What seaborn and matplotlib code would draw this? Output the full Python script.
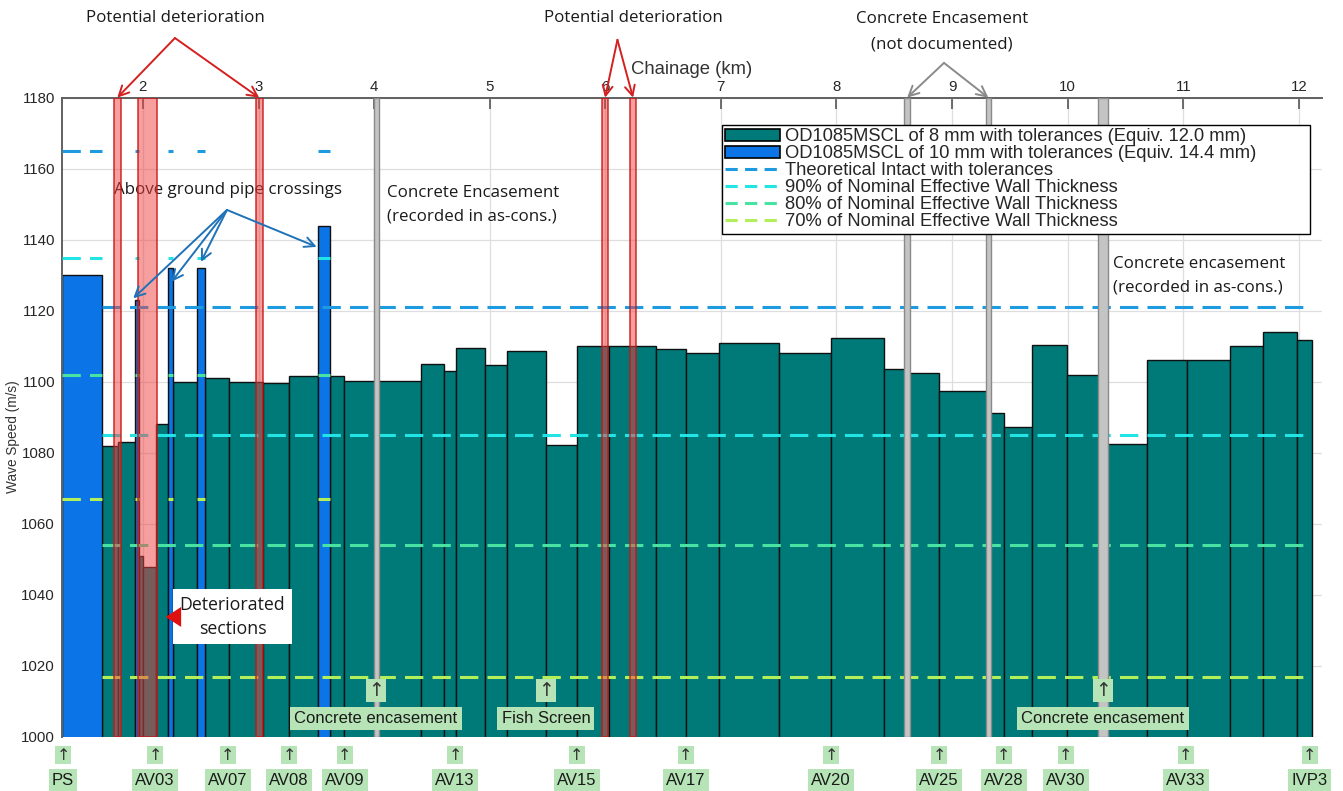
import matplotlib
matplotlib.use("Agg")
import matplotlib.pyplot as plt
import matplotlib.transforms as mtransforms
from matplotlib.patches import Patch
from matplotlib.lines import Line2D
import numpy as np
import pandas as pd
import seaborn as sns

# ---------------------------------------------------------------------------
# Pipe sections: chainage boundaries (km), measured wave speed (m/s), wall (mm)
# ---------------------------------------------------------------------------
section_edges_km = [1.300, 1.645, 1.781, 1.935, 1.965, 2.004, 2.112, 2.214, 2.264, 2.467,
                    2.536, 2.744, 3.035, 3.266, 3.511, 3.615, 3.741, 4.016, 4.402, 4.601,
                    4.705, 4.961, 5.149, 5.486, 5.757, 6.034, 6.435, 6.697, 6.985, 7.499,
                    7.953, 8.414, 8.609, 8.890, 9.318, 9.448, 9.690, 9.993, 10.309, 10.688,
                    11.030, 11.407, 11.686, 11.983, 12.112]
wave_speed = [1130, 1082, 1083, 1123, 1051, 1048, 1088, 1132, 1100, 1132,
              1101, 1100, 1099.7, 1101.7, 1144, 1101.6, 1100.3, 1100.3, 1105, 1103,
              1109.6, 1104.8, 1108.8, 1082.1, 1110.1, 1110, 1109.3, 1108, 1110.9, 1108,
              1112.4, 1103.5, 1102.5, 1097.3, 1091.3, 1087.3, 1110.4, 1102, 1082.5, 1106.2,
              1106.2, 1110, 1114, 1111.8]
wall_mm = [10, 8, 8, 10, 8, 8, 8, 10, 8, 10,
           8, 8, 8, 8, 10, 8, 8, 8, 8, 8,
           8, 8, 8, 8, 8, 8, 8, 8, 8, 8,
           8, 8, 8, 8, 8, 8, 8, 8, 8, 8,
           8, 8, 8, 8]

# Wave-speed thresholds (m/s): intact, 90 %, 80 %, 70 % effective wall thickness
level_names = ["Theoretical Intact with tolerances",
               "90% of Nominal Effective Wall Thickness",
               "80% of Nominal Effective Wall Thickness",
               "70% of Nominal Effective Wall Thickness"]
levels_8mm = [1121, 1085, 1054, 1017]
levels_10mm = [1165, 1135, 1102, 1067]

# Highlighted chainage ranges (km)
deterioration_bands = [(1.749, 1.807), (1.954, 2.119), (2.978, 3.035),
                       (5.975, 6.022), (6.213, 6.268)]
encasement_bands = [(3.998, 4.042), (8.588, 8.635), (9.292, 9.336), (10.265, 10.348)]

# Valves / structures along the main
valve_names = ["PS", "AV03", "AV07", "AV08", "AV09", "AV13", "AV15", "AV17",
               "AV20", "AV25", "AV28", "AV30", "AV33", "IVP3"]
valve_km = [1.308, 2.104, 2.735, 3.263, 3.747, 4.699, 5.754, 6.697,
            7.952, 8.886, 9.448, 9.984, 11.022, 12.095]
feature_names = ["Concrete encasement", "Fish Screen", "Concrete encasement"]
feature_km = [4.015, 5.486, 10.304]

# ---------------------------------------------------------------------------
teal = "#007a78"
blue = "#0b74e6"
level_colors = ["#1e9be0", "#22e4e4", "#48e2a2", "#b2ef5a"]
green_box = "#b6e4b6"
ann_font = ["Open Sans", "DejaVu Sans"]
arrow_font = ["DejaVu Sans"]

sns.set_style("white")
plt.rcParams["font.family"] = ["Liberation Sans", "DejaVu Sans"]

fig = plt.figure(figsize=(13.43, 7.91), dpi=100)
ax = fig.add_axes([0.04617, 0.06827, 0.93819, 0.80822])

edges = list(section_edges_km)
edges_arr = np.array(section_edges_km)
df = pd.DataFrame({
    "mid": (edges_arr[:-1] + edges_arr[1:]) / 2,
    "speed": wave_speed,
    "wall": wall_mm,
})

# Sections as variable-width bars (bins = section boundaries)
for wall, colour in [(8, teal), (10, blue)]:
    sub = df[df["wall"] == wall]
    sns.histplot(data=sub, x="mid", weights="speed", bins=edges, color=colour,
                 edgecolor="#101010", linewidth=1.0, alpha=1, ax=ax, zorder=2)

dash = (0, (6, 3))
# Thresholds for 8 mm pipe run from the end of the pump-station section
for lvl, col in zip(levels_8mm, level_colors):
    ax.plot([edges[1], edges[-1]], [lvl, lvl], color=col, lw=2.2, ls=dash, zorder=3)
# Thresholds for 10 mm pipe only over the 10 mm sections
blue_idx = [i for i, w in enumerate(wall_mm) if w == 10]
for lvl, col in zip(levels_10mm, level_colors):
    for i in blue_idx:
        ax.plot([edges[i], edges[i + 1]], [lvl, lvl], color=col, lw=2.2, ls=dash, zorder=3)

for x0, x1 in deterioration_bands:
    ax.axvspan(x0, x1, facecolor=(0.94, 0.25, 0.25, 0.5), edgecolor=(0.78, 0.08, 0.08, 0.75),
               lw=1.3, zorder=4)
for x0, x1 in encasement_bands:
    ax.axvspan(x0, x1, facecolor="#c4c4c4", edgecolor="#8a8a8a", lw=1.0, zorder=4)

# Axes styling
ax.set_xlim(1.3, 12.2)
ax.set_ylim(1000, 1180)
ax.set_xticks(range(2, 13))
ax.set_yticks(range(1000, 1181, 20))
ax.xaxis.tick_top()
ax.xaxis.set_label_position("top")
ax.tick_params(axis="both", direction="in", length=8, width=1.2, color="#555555",
               labelsize=10.8, labelcolor="#262626")
ax.tick_params(axis="x", pad=3)
ax.tick_params(axis="y", pad=5)
for side in ["bottom", "right"]:
    ax.spines[side].set_visible(False)
for side in ["top", "left"]:
    ax.spines[side].set_color("#606060")
    ax.spines[side].set_linewidth(1.4)
ax.grid(True, color="#dedede", lw=0.9)
ax.set_axisbelow(True)
ax.set_xlabel("Chainage (km)", fontsize=13.3, color="#333333", labelpad=0)
ax.xaxis.set_label_coords(0.5, 1.037)
ax.set_ylabel("Wave Speed (m/s)", fontsize=9.8, color="#333333")
ax.yaxis.set_label_coords(-0.033, 0.47)

# Legend: fixed-width box in the upper right of the axes
handles = [Patch(facecolor=teal, edgecolor="black", lw=1.2),
           Patch(facecolor=blue, edgecolor="black", lw=1.2)]
handles += [Line2D([0], [0], color=c, lw=2.2, ls=(0, (4, 2.4))) for c in level_colors]
labels = ["OD1085MSCL of 8 mm with tolerances (Equiv. 12.0 mm)",
          "OD1085MSCL of 10 mm with tolerances (Equiv. 14.4 mm)"] + level_names
leg = ax.legend(handles, labels, loc="upper left",
                bbox_to_anchor=(0.5238, 0.5, 0.4667, 0.457), mode="expand",
                fontsize=13.2, frameon=True, fancybox=False, framealpha=1,
                edgecolor="black", borderpad=0.18, labelspacing=0.0,
                handlelength=3.0, handleheight=0.6, handletextpad=0.27, borderaxespad=0)
leg.get_frame().set_linewidth(1.0)
leg.set_zorder(10)

# Annotations
arrow_kw = dict(arrowstyle="->", lw=1.4, shrinkA=0, shrinkB=0, mutation_scale=18)


def callout(text, text_xy, start, tips, colour, **text_kw):
    ax.text(*text_xy, text, ha="center", va="center", fontsize=12.2,
            family=ann_font, color="#1a1a1a", clip_on=False, **text_kw)
    for tip in tips:
        ax.annotate("", xy=tip, xytext=start, annotation_clip=False,
                    arrowprops=dict(color=colour, **arrow_kw), zorder=6)


callout("Potential deterioration", (2.277, 1202.4), (2.277, 1196.8),
        [(1.778, 1180), (3.006, 1180)], "#d42020")
callout("Potential deterioration", (6.247, 1202.4), (6.105, 1196.3),
        [(5.998, 1180), (6.240, 1180)], "#d42020")
callout("Concrete Encasement\n(not documented)", (8.912, 1198.5), (8.93, 1189.8),
        [(8.611, 1180), (9.314, 1180)], "#8a8a8a", linespacing=1.75)
callout("Above ground pipe crossings", (2.735, 1153.9), (2.727, 1148.4),
        [(1.916, 1123.5), (2.248, 1128.2), (2.502, 1133.8), (3.503, 1138.0)], "#1f72b8")

ax.text(4.111, 1149.8, "Concrete Encasement\n(recorded in as-cons.)", ha="left", va="center",
        fontsize=12.2, family=ann_font, color="#1a1a1a", linespacing=1.67, zorder=6)
ax.text(10.391, 1129.9, "Concrete encasement\n(recorded in as-cons.)", ha="left", va="center",
        fontsize=12.2, family=ann_font, color="#1a1a1a", linespacing=1.67, zorder=6)

ax.text(2.775, 1033.8, "Deteriorated\nsections", ha="center", va="center", fontsize=12.8,
        family=ann_font, color="#1a1a1a", linespacing=1.47, zorder=7,
        bbox=dict(boxstyle="square,pad=0.35", fc="white", ec="none"))
ax.annotate("", xy=(2.172, 1033.8), xytext=(2.28, 1033.8), zorder=7,
            arrowprops=dict(arrowstyle="-|>,head_length=0.7,head_width=0.45",
                            color="#e01010", lw=0, mutation_scale=16))

# Structure labels inside the plot
for name, x in zip(feature_names, feature_km):
    ax.text(x, 1013.0, "\u2191", ha="center", va="center", fontsize=13.5, color="#333333",
            family=arrow_font, zorder=7,
            bbox=dict(boxstyle="square,pad=0.1", fc=green_box, ec="none"))
    ax.text(x, 1005.3, name, ha="center", va="center", fontsize=12, color="#1a1a1a",
            zorder=7, bbox=dict(boxstyle="square,pad=0.25", fc=green_box, ec="none"))

# Valve labels below the plot
trans = mtransforms.blended_transform_factory(ax.transData, ax.transAxes)
for name, x in zip(valve_names, valve_km):
    ax.text(x, -0.0285, "\u2191", transform=trans, ha="center", va="center", fontsize=11.5,
            color="#333333", family=arrow_font, clip_on=False,
            bbox=dict(boxstyle="square,pad=0.08", fc=green_box, ec="none"))
    ax.text(x, -0.0675, name, transform=trans, ha="center", va="center", fontsize=12,
            color="#1a1a1a", clip_on=False,
            bbox=dict(boxstyle="square,pad=0.2", fc=green_box, ec="none"))

fig.savefig("out.png", dpi=100)
